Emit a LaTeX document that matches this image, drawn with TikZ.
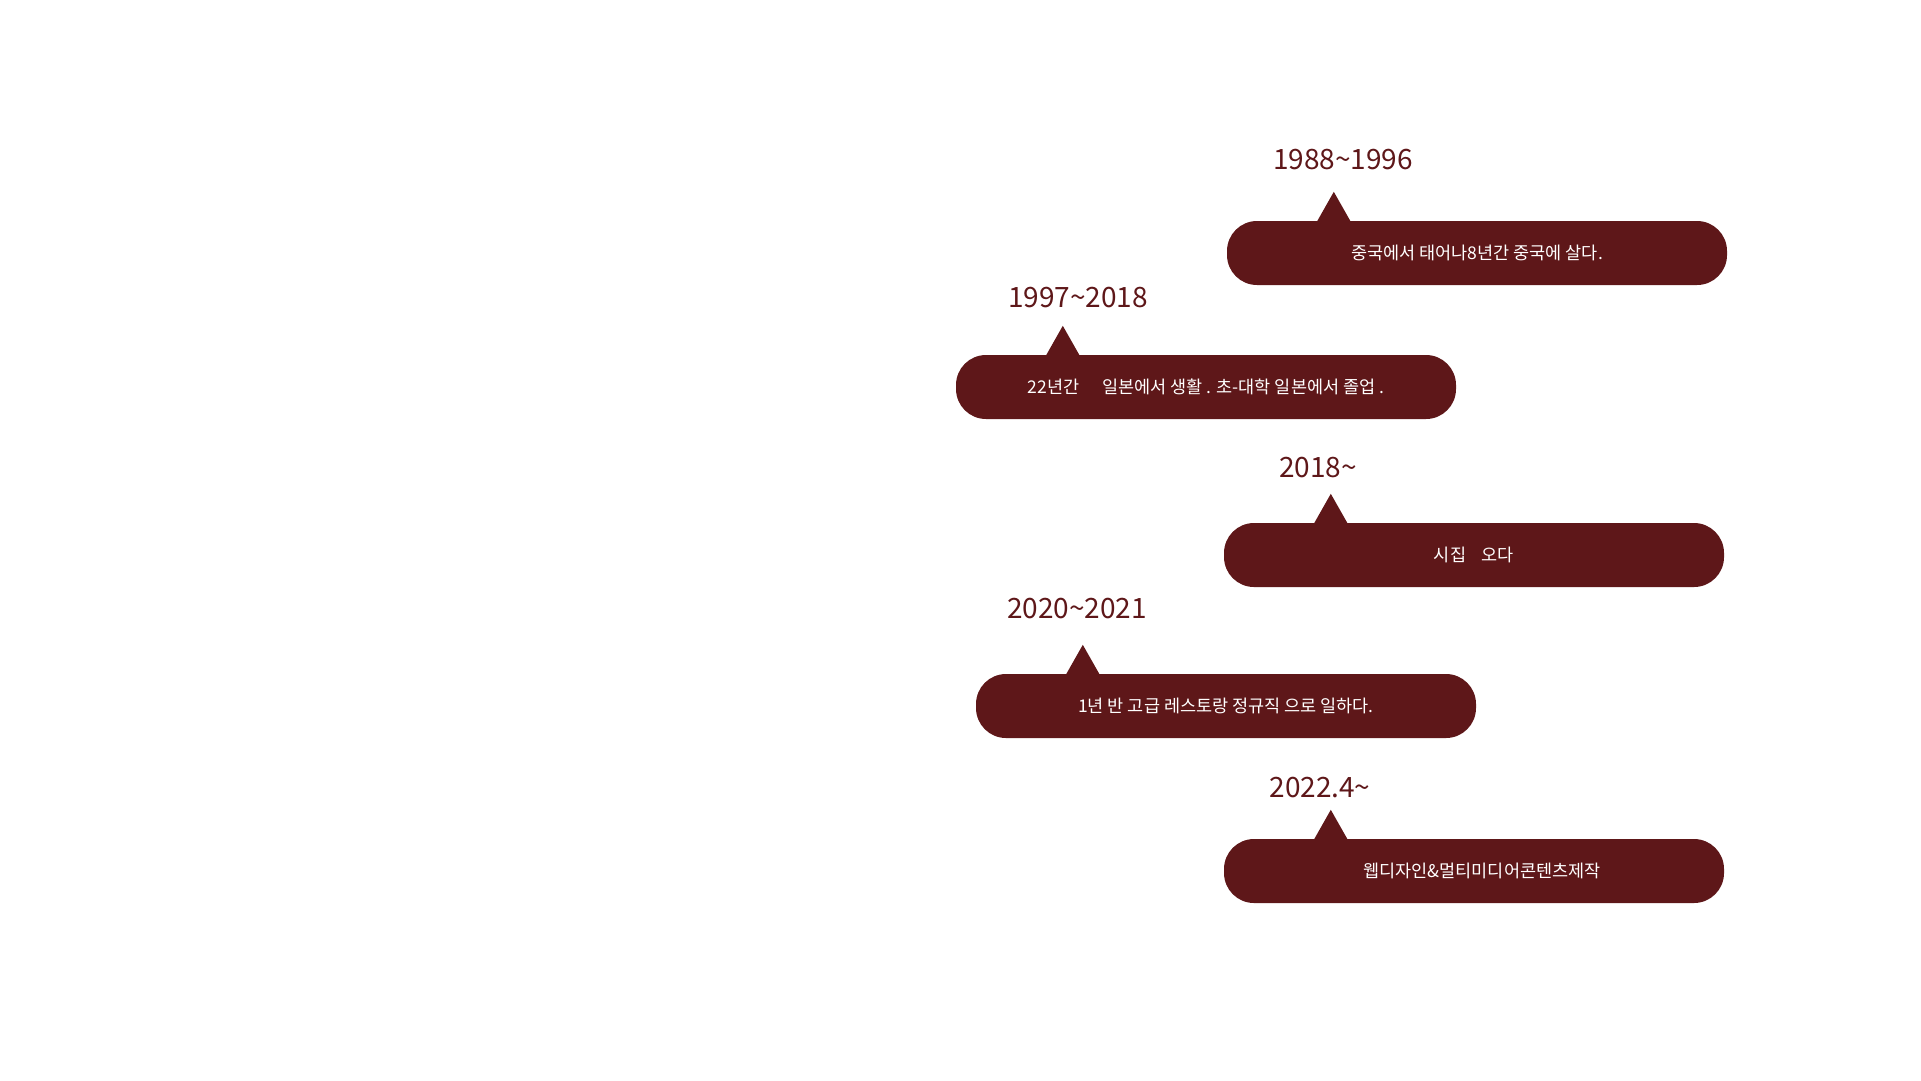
\documentclass[tikz,border=0pt]{standalone}
\usepackage{fontspec}
\setmainfont{Noto Sans CJK KR}
\usetikzlibrary{calc}
\definecolor{maroon}{HTML}{5E1719}
\tikzset{
	bubble/.style={fill=maroon, text=white, rounded corners=30pt, minimum width=500pt, minimum height=64pt, inner sep=0pt, font=\fontsize{17.5}{20}\selectfont},
	year/.style={text=maroon, inner sep=0pt, font=\fontsize{28}{32}\selectfont}
}
\begin{document}
\begin{tikzpicture}[x=1pt,y=-1pt]
			\useasboundingbox (0,0) rectangle (1921,1080);

			\node [bubble] (b1) at (1477,253) {중국에서 태어나8년간 중국에 살다.};
			\node [bubble] (b2) at (1206,387) {22년간\hspace{1.3em}일본에서 생활 . 초-대학 일본에서 졸업 .};
			\node [bubble] (b3) at (1474,555) {시집\hspace{0.9em}오다};
			\node [bubble] (b4) at (1226,706) {1년 반 고급 레스토랑 정규직 으로 일하다.};
			\node [bubble] (b5) at (1474,871) {\hspace{16pt}웹디자인\&멀티미디어콘텐츠제작};

			\foreach \b in {b1,b2,b3,b4,b5}
				\fill [maroon] ($(\b.north west)+(90,1)$) -- ($(\b.north west)+(107,-29)$) -- ($(\b.north west)+(124,1)$) -- cycle;

			\node [year] (y1) at (1343,160) {1988\textasciitilde 1996};
			\node [year] (y2) at (1078,298) {1997\textasciitilde 2018};
			\node [year] (y3) at (1318,468) {2018\textasciitilde};
			\node [year] (y4) at (1077,609) {2020\textasciitilde 2021};
			\node [year] (y5) at (1320,788) {2022.4\textasciitilde};
		\end{tikzpicture}
\end{document}
